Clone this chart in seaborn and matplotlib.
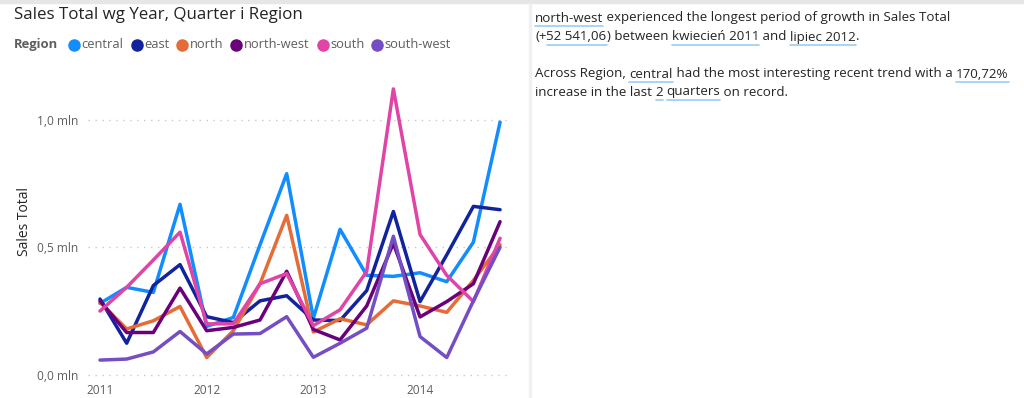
import matplotlib
matplotlib.use("Agg")
import matplotlib.pyplot as plt
import seaborn as sns
import pandas as pd
from matplotlib.lines import Line2D
from matplotlib.patches import Rectangle

# ---- data ----
regions = ["central", "east", "north", "north-west", "south", "south-west"]
quarters = list(range(16))  # 2011 Q1 .. 2014 Q4
year_ticks = [0, 4, 8, 12]
year_labels = ["2011", "2012", "2013", "2014"]

central    = [0.28, 0.343, 0.323, 0.668, 0.19, 0.225, 0.51, 0.788, 0.222, 0.57, 0.39, 0.386, 0.40, 0.365, 0.52, 0.99]
east       = [0.297, 0.124, 0.35, 0.432, 0.228, 0.205, 0.29, 0.31, 0.215, 0.213, 0.33, 0.64, 0.287, 0.47, 0.66, 0.647]
north      = [0.284, 0.18, 0.212, 0.268, 0.068, 0.173, 0.357, 0.625, 0.168, 0.22, 0.196, 0.29, 0.27, 0.245, 0.37, 0.51]
north_west = [0.29, 0.166, 0.166, 0.34, 0.173, 0.186, 0.215, 0.406, 0.178, 0.137, 0.27, 0.515, 0.227, 0.287, 0.357, 0.60]
south      = [0.25, 0.343, 0.45, 0.559, 0.20, 0.20, 0.357, 0.397, 0.193, 0.255, 0.405, 1.12, 0.55, 0.39, 0.287, 0.535]
south_west = [0.058, 0.062, 0.09, 0.17, 0.082, 0.16, 0.162, 0.228, 0.069, 0.124, 0.183, 0.543, 0.15, 0.068, 0.29, 0.50]

colors = ["#118DFF", "#12239E", "#E66C37", "#6B007B", "#E044A7", "#744EC2"]

series = [central, east, north, north_west, south, south_west]
df = pd.DataFrame({
    "Quarter": quarters * len(regions),
    "Sales Total": [v for s in series for v in s],
    "Region": [r for r in regions for _ in quarters],
})

sns.set_theme(style="white")
plt.rcParams["font.family"] = ["Open Sans", "DejaVu Sans"]

W, H = 1024, 398
fig = plt.figure(figsize=(W / 100, H / 100), dpi=100)

def fx(px):
    return px / W

def fy(py):
    return 1 - py / H

ax = fig.add_axes([fx(88), fy(380), (507 - 88) / W, (380 - 80) / H])
sns.lineplot(data=df, x="Quarter", y="Sales Total", hue="Region",
             hue_order=regions, palette=colors, linewidth=2.5, ax=ax,
             legend=False)

ax.set_xlim(-0.45, 15.26)
ax.set_ylim(-0.02, 1.155)
ax.set_yticks([0.0, 0.5, 1.0])
ax.set_yticklabels(["0,0 mln", "0,5 mln", "1,0 mln"])
ax.set_xticks(year_ticks)
ax.set_xticklabels(year_labels)
ax.tick_params(axis="both", length=0, labelsize=8.6, colors="#605E5C")
ax.tick_params(axis="y", pad=7)
ax.tick_params(axis="x", pad=3)
ax.set_xlabel("")
ax.set_ylabel("Sales Total", fontsize=10, color="#252423")
ax.yaxis.set_label_coords((32 - 88) / (507 - 88), (380 - 221) / (380 - 80))
for s in ax.spines.values():
    s.set_visible(False)
ax.grid(axis="y", linestyle=(0, (1, 4)), color="#C8C8C8", linewidth=1)
ax.grid(axis="x", visible=False)
ax.set_axisbelow(True)

# frame decorations
fig.patches.append(Rectangle((0, fy(3)), 1, 3 / H, transform=fig.transFigure,
                             color="#E6E6E6", zorder=0))
fig.patches.append(Rectangle((fx(528.5), 0), 2 / W, fy(3), transform=fig.transFigure,
                             color="#F0F0F0", zorder=0))

# title
fig.text(fx(14), fy(15), "Sales Total wg Year, Quarter i Region", fontsize=12.2,
         color="#252423", va="center", ha="left")

# legend
fig.canvas.draw()
renderer = fig.canvas.get_renderer()
t = fig.text(fx(14), fy(44.5), "Region", fontsize=9.4, fontweight="bold",
             color="#605E5C", va="center", ha="left")
x = t.get_window_extent(renderer).x1 + 16
for name, c in zip(regions, colors):
    fig.add_artist(Line2D([fx(x)], [fy(44.5)], marker="o", markersize=8,
                          color=c, transform=fig.transFigure, linestyle="none"))
    tt = fig.text(fx(x + 7.5), fy(44.5), name, fontsize=9.3, color="#605E5C",
                  va="center", ha="left")
    x = tt.get_window_extent(renderer).x1 + 13

# narrative text
lines = [
    (18, [("north-west", True), (" experienced the longest period of growth in Sales Total", False)]),
    (37, [("(+", False), ("52 541,06", True), (") between ", False), ("kwiecień 2011", True),
          (" and ", False), ("lipiec 2012", True), (".", False)]),
    (74, [("Across Region, ", False), ("central", True),
          (" had the most interesting recent trend with a ", False), ("170,72%", True)]),
    (92, [("increase in the last ", False), ("2", True), (" ", False), ("quarters", True),
          (" on record.", False)]),
]
for ypx, segs in lines:
    xpx = 535
    for txt, ul in segs:
        tt = fig.text(fx(xpx), fy(ypx), txt, fontsize=9.65, color="#252423",
                      va="center", ha="left")
        bb = tt.get_window_extent(renderer)
        if ul:
            fig.add_artist(Line2D([bb.x0 / W, bb.x1 / W], [fy(ypx + 8), fy(ypx + 8)],
                                  color="#9ACDF7", linewidth=1.2,
                                  transform=fig.transFigure))
        xpx = bb.x1

fig.savefig("out.png", dpi=100, facecolor="white")
